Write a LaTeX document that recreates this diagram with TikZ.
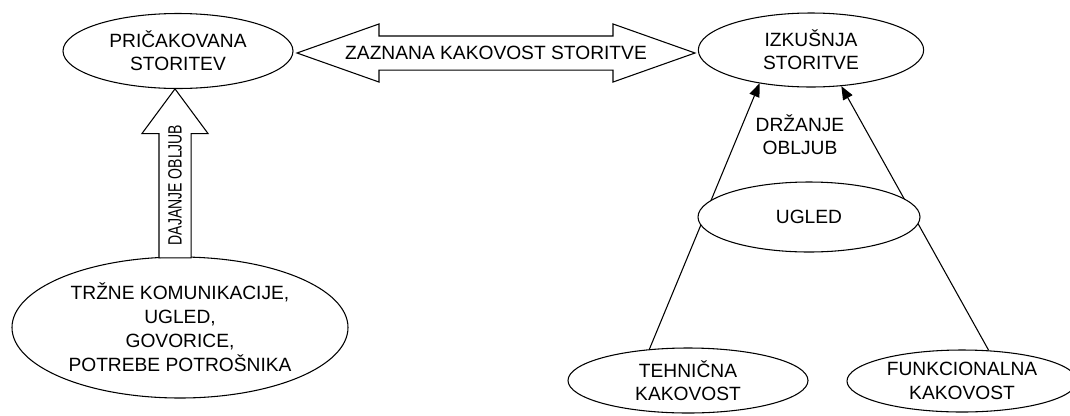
\documentclass[tikz,border=0pt]{standalone}
\usepackage{fontspec}
\setmainfont{Liberation Sans}
\usetikzlibrary{arrows.meta, positioning, shapes.geometric, shapes.arrows}

\tikzset{
  oval/.style={ellipse, draw, fill=white, line width=0.8pt, inner sep=0pt, align=center},
  blok/.style={draw, fill=white, line width=0.8pt, inner sep=0pt},
  puscica/.style={-{Triangle[length=10pt, width=8pt]}, line width=0.8pt}
}

\begin{document}
\begin{tikzpicture}[x=0.75pt, y=-0.75pt, font=\fontsize{14.4}{17.5}\selectfont]
    \useasboundingbox (0,0) rectangle (1070,415);

    % Pricakovana storitev, izkusnja storitve
    \node[oval, minimum width=172.5pt, minimum height=56.25pt] (pric) at (178,51) {PRIČAKOVANA\\STORITEV};
    \node[oval, minimum width=169pt, minimum height=55.5pt] (izk) at (811,50) {IZKUŠNJA\\STORITVE};

    % Zaznana kakovost
    \node[blok, double arrow, minimum height=298.5pt, minimum width=42.75pt,
          double arrow head extend=9pt, double arrow tip angle=39] (zaznana) at (496,53) {\rule{0pt}{24.75pt}};
    \node (zaznanatxt) at (zaznana.center) {ZAZNANA KAKOVOST STORITVE};

    % Trzne komunikacije
    \node[oval, minimum width=252pt, minimum height=105.75pt, font=\fontsize{14.4}{18}\selectfont] (trzne) at (180,327.5)
        {TRŽNE KOMUNIKACIJE,\\UGLED,\\GOVORICE,\\POTREBE POTROŠNIKA};

    % Dajanje obljub
    \node[blok, single arrow, rotate=90, anchor=tip, minimum height=126.75pt, minimum width=48.75pt,
          single arrow head extend=12.75pt, single arrow tip angle=73] (dajanje) at (175,88) {\rule{0pt}{23.25pt}};
    \node[rotate=90] (dajanjetxt) at (175,185) {\scalebox{0.73}[1]{DAJANJE OBLJUB}};

    % Drzanje obljub
    \node[oval, minimum width=180pt, minimum height=48.75pt] (tehn) at (688,380.5) {TEHNIČNA\\KAKOVOST};
    \node[oval, minimum width=172.5pt, minimum height=46.5pt] (funk) at (962,381) {FUNKCIONALNA\\KAKOVOST};
    \draw[puscica] (tehn.141) -- (izk.213);
    \draw[puscica] (funk.49) -- (izk.310);
    \node[oval, minimum width=166.5pt, minimum height=52.5pt] (ugled) at (809,217) {UGLED};
    \node[align=center] (drzanje) at (800,135) {DRŽANJE\\OBLJUB};
\end{tikzpicture}
\end{document}
